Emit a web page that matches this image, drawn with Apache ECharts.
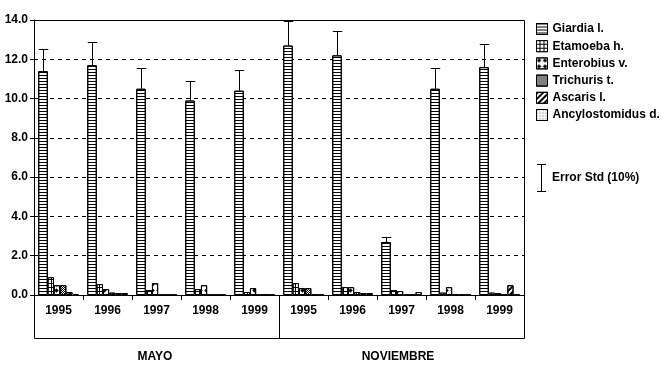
<!DOCTYPE html>
<html><head><meta charset="utf-8">
<script src="https://cdn.jsdelivr.net/npm/echarts@6/dist/echarts.min.js"></script>
<style>html,body{margin:0;padding:0;background:#fff}#c{width:663px;height:368px}</style>
</head><body><div id="c"></div>
<script>
// ---- data ----
const categories = ['1995','1996','1997','1998','1999','1995','1996','1997','1998','1999'];
const groupLabels = ['MAYO','NOVIEMBRE'];
const seriesNames = ['Giardia l.','Etamoeba h.','Enterobius v.','Trichuris t.','Ascaris l.','Ancylostomidus d.'];
const giardia        = [11.4, 11.7, 10.5, 9.9, 10.4, 12.7, 12.2, 2.7, 10.5, 11.6];
const etamoeba       = [0.9, 0.55, 0.25, 0.3, 0.15, 0.6, 0.4, 0.25, 0.12, 0.12];
const enterobius     = [0.5, 0.3, 0.6, 0.5, 0.35, 0.35, 0.4, 0.2, 0.4, 0.1];
const trichuris      = [0.5, 0.12, 0, 0, 0, 0.35, 0.15, 0, 0.03, 0.04];
const ascaris        = [0.15, 0.1, 0, 0, 0.03, 0.03, 0.1, 0, 0, 0.5];
const ancylostomidus = [0.05, 0.1, 0, 0, 0, 0, 0.1, 0.15, 0, 0];
const errorPct = 0.10;
const errorLabel = 'Error Std (10%)';
const yMin = 0, yMax = 14, yInterval = 2;

// ---- styling ----
const FONT = '"Liberation Sans", Arial, sans-serif';
const wG = 9.5, wO = 6.2;
const totalW = wG + 5 * wO;

const styles = [
  {color:'#fff', decal:{symbol:'rect', symbolSize:1, dashArrayX:[1,0], dashArrayY:[1,2], color:'#000'}},
  {color:'#000', decal:{symbol:'rect', symbolSize:1, dashArrayX:[3,1], dashArrayY:[3,1], color:'#fff'}},
  {color:'#fff', decal:{symbol:'diamond', symbolSize:0.9, dashArrayX:[5,1], dashArrayY:[5,1], color:'#000'}},
  {color:'#fff', decal:{symbol:'rect', symbolSize:1, dashArrayX:[[1,1],[0,1,1,0]], dashArrayY:[1,0], color:'#000'}},
  {color:'#fff', decal:{symbol:'rect', symbolSize:1, dashArrayX:[1,0], dashArrayY:[2,2], rotation:-Math.PI/4, color:'#000'}},
  {color:'#fff', decal:{symbol:'rect', symbolSize:1, dashArrayX:[1,2], dashArrayY:[1,2], color:'#555'}}
];
const values = [giardia, etamoeba, enterobius, trichuris, ascaris, ancylostomidus];

const chart = echarts.init(document.getElementById('c'), null, {renderer:'canvas'});

const barSeries = seriesNames.map((n, k) => ({
  type:'bar', name:n, data:values[k], barWidth: k === 0 ? wG : wO, barGap:'0%',
  itemStyle:{color:styles[k].color, decal:styles[k].decal, borderColor:'#000', borderWidth:1},
  emphasis:{disabled:true}, animation:false
}));

const errSeries = {
  type:'custom', name:'err', silent:true, animation:false, z:10,
  data: giardia.map((v, i) => [i, v]),
  renderItem(params, api) {
    const i = api.value(0), v = api.value(1);
    const base = api.coord([i, v]);
    const top = api.coord([i, v * (1 + errorPct)]);
    const x = Math.round(base[0] - totalW / 2 + wG / 2) + 0.5;
    const yt = Math.round(top[1]) + 0.5;
    const half = wG / 2;
    return {type:'group', children:[
      {type:'line', shape:{x1:x, y1:base[1], x2:x, y2:yt}, style:{stroke:'#000', lineWidth:1}},
      {type:'line', shape:{x1:x - half, y1:yt, x2:x + half, y2:yt}, style:{stroke:'#000', lineWidth:1}}
    ]};
  }
};

chart.setOption({
  animation:false,
  backgroundColor:'#fff',
  grid:{left:34, right:139, top:20, bottom:73, show:false},
  legend:{
    orient:'vertical', left:531, top:17, itemWidth:11, itemHeight:11, itemGap:3.2,
    data:seriesNames, icon:'rect', selectedMode:false,
    itemStyle:{borderColor:'#000', borderWidth:1},
    textStyle:{fontFamily:FONT, fontWeight:'bold', fontSize:12, color:'#000', lineHeight:14}
  },
  xAxis:{
    type:'category', data:categories, boundaryGap:true,
    axisLine:{lineStyle:{color:'#000', width:1}},
    axisTick:{show:true, length:5, lineStyle:{color:'#000'}},
    axisLabel:{margin:10, fontFamily:FONT, fontWeight:'bold', fontSize:12, color:'#000', interval:0},
    splitLine:{show:false}
  },
  yAxis:{
    type:'value', min:yMin, max:yMax, interval:yInterval,
    axisLine:{show:true, lineStyle:{color:'#000', width:1}},
    axisTick:{show:true, length:4, lineStyle:{color:'#000'}},
    axisLabel:{margin:6, fontFamily:FONT, fontWeight:'bold', fontSize:12, color:'#000', formatter:v => v.toFixed(1)},
    splitLine:{show:true, lineStyle:{color:'#000', width:1, type:[4,4]}}
  },
  series:[...barSeries, errSeries]
});

// frame / group box derived from axis
const c0 = chart.convertToPixel({xAxisIndex:0}, 0);
const c1 = chart.convertToPixel({xAxisIndex:0}, 1);
const bw = c1 - c0;
const left = Math.round(c0 - bw / 2) + 0.5;
const mid = Math.round(c0 - bw / 2 + bw * 5) + 0.5;
const right = Math.round(c0 - bw / 2 + bw * categories.length) + 0.5;
const yTop = Math.round(chart.convertToPixel({yAxisIndex:0}, yMax)) + 0.5;
const yZero = Math.round(chart.convertToPixel({yAxisIndex:0}, yMin)) + 0.5;
const boxBottom = yZero + 43;
const ln = (x1, y1, x2, y2) => ({type:'line', shape:{x1, y1, x2, y2}, style:{stroke:'#000', lineWidth:1}, silent:true, z:20});
const txt = (x, y, t, align) => ({type:'text', x, y, silent:true, z:20,
  style:{text:t, fontFamily:FONT, fontWeight:'bold', fontSize:12, fill:'#000', align:align || 'center', verticalAlign:'middle'}});

chart.setOption({graphic:[
  ln(left, yTop, right, yTop),
  ln(right, yTop, right, boxBottom),
  ln(left, yZero, left, boxBottom),
  ln(mid, yZero, mid, boxBottom),
  ln(left, boxBottom, right, boxBottom),
  txt((left + mid) / 2 - 2, 357, groupLabels[0]),
  txt((mid + right) / 2 - 4, 357, groupLabels[1]),
  ln(541.5, 164, 541.5, 192),
  ln(537, 164.5, 546, 164.5),
  ln(537, 191.5, 546, 191.5),
  txt(552, 178, errorLabel, 'left')
]});
</script>
</body></html>
